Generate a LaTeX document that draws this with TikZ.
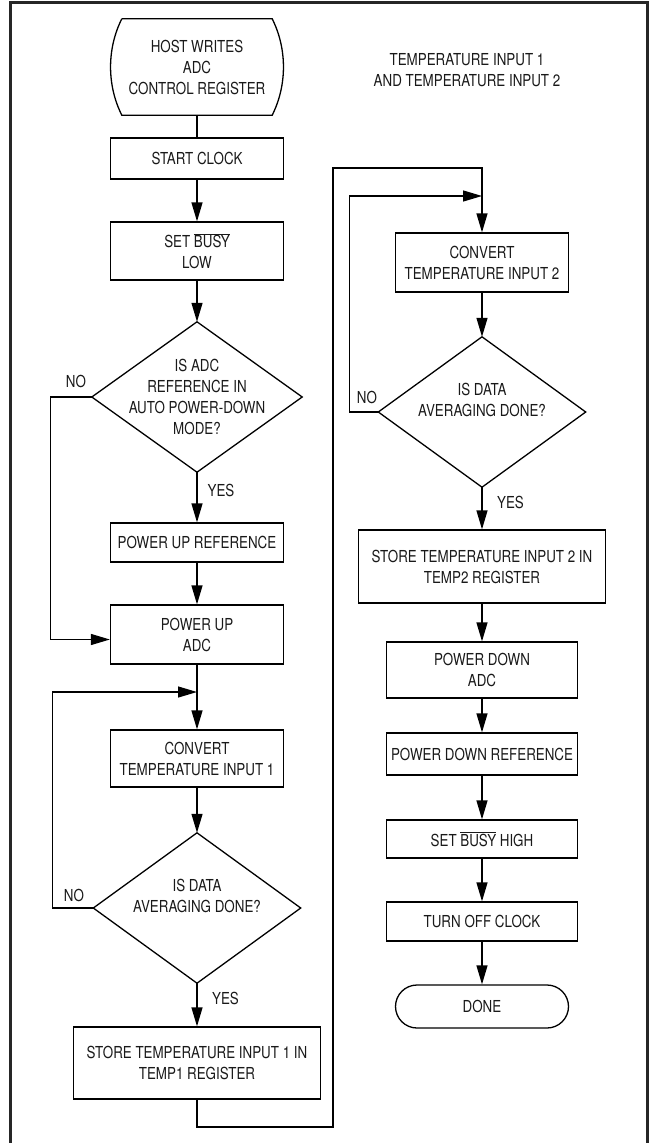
\documentclass[tikz,border=0pt]{standalone}
\usepackage{fontspec}
\setmainfont{TeX Gyre Heros}[FakeStretch=0.81]
\usetikzlibrary{arrows.meta}
\newcommand{\ovl}[1]{$\overline{\mbox{#1}}$}
\begin{document}
\begin{tikzpicture}[x=1pt,y=-1pt,
  every node/.style={font=\fontsize{16.5}{21}\selectfont, inner sep=0pt, align=center, text=black!90},
  box/.style={draw, line width=1.3pt, minimum width=173pt},
  ghost/.style={minimum width=#1},
  conn/.style={line width=1.3pt},
  flow/.style={line width=1.3pt, -{Triangle[length=19pt,width=11pt]}},
  lbl/.style={}]
\useasboundingbox (0,0) rectangle (650,1143);
\draw[line width=3pt, black!85] (10,1143) -- (10,2) -- (647,2) -- (647,1143);

% title
\node (title) at (467,70) {TEMPERATURE INPUT 1\\AND TEMPERATURE INPUT 2};

% left column
\node[minimum width=150pt, minimum height=96pt] (start) at (197,67) {HOST WRITES\\ADC\\CONTROL REGISTER};
\draw[conn] (start.north west) -- (start.north east)
  .. controls +(15,30) and +(15,-30) .. (start.south east)
  -- (start.south west)
  .. controls +(-15,-30) and +(-15,30) .. (start.north west);
\node[box, minimum height=41pt] (clock) at (197,158.5) {START CLOCK};
\node[box, minimum height=58pt] (busy) at (197,251) {SET \ovl{BUSY}\\LOW};
\node[minimum width=210pt, minimum height=150pt] (dia1) at (197,397) {IS ADC\\REFERENCE IN\\AUTO POWER-DOWN\\MODE?};
\draw[conn] (dia1.north) -- (dia1.east) -- (dia1.south) -- (dia1.west) -- cycle;
\node[box, minimum height=39pt] (pur) at (197,542.5) {POWER UP REFERENCE};
\node[box, minimum height=59pt] (pua) at (197,634.5) {POWER UP\\ADC};
\coordinate (join1) at (197,692);
\node[box, minimum height=57pt] (conv1) at (197,758.5) {CONVERT\\TEMPERATURE INPUT 1};
\node[minimum width=207pt, minimum height=150pt] (dia2) at (197,908) {IS DATA\\AVERAGING DONE?\\[3pt]};
\draw[conn] (dia2.north) -- (dia2.east) -- (dia2.south) -- (dia2.west) -- cycle;
\node[box, minimum width=247pt, minimum height=72pt] (store1) at (197,1063) {STORE TEMPERATURE INPUT 1 IN\\TEMP1 REGISTER};

\node (no1) at (76,381) {NO};
\node (yes1) at (221,490) {YES};
\node (no2) at (74,895) {NO};
\node (yes2) at (225.5,998) {YES};

% right column
\coordinate (join2) at (482,196);
\node[box, minimum height=59pt] (conv2) at (482,262.5) {CONVERT\\TEMPERATURE INPUT 2};
\node[minimum width=207pt, minimum height=150pt] (dia3) at (482,412) {IS DATA\\AVERAGING DONE?\\[3pt]};
\draw[conn] (dia3.north) -- (dia3.east) -- (dia3.south) -- (dia3.west) -- cycle;
\node[box, minimum width=247pt, minimum height=73pt] (store2) at (482,566.5) {STORE TEMPERATURE INPUT 2 IN\\TEMP2 REGISTER};
\node[box, minimum width=191pt, minimum height=56pt] (pda) at (482,670) {POWER DOWN\\ADC};
\node[box, minimum width=191pt, minimum height=42pt] (pdr) at (482,754) {POWER DOWN REFERENCE};
\node[box, minimum width=191pt, minimum height=38pt] (sbh) at (482,839) {SET \ovl{BUSY} HIGH};
\node[box, minimum width=191pt, minimum height=39pt] (toc) at (482,921.5) {TURN OFF CLOCK};
\node[draw, line width=1.3pt, rounded corners=21.5pt, minimum width=173pt, minimum height=43pt] (done) at (482,1006.5) {DONE};

\node (no3) at (367,397) {NO};
\node (yes3) at (510.5,502) {YES};

% connectors left
\draw[conn] (start) -- (clock);
\draw[flow] (clock) -- (busy);
\draw[flow] (busy) -- (dia1);
\draw[flow] (dia1) -- (pur);
\draw[flow] (pur) -- (pua);
\draw[flow] (dia1.west) -- ++(-41,0) |- ([yshift=-5pt]pua.west);
\draw[flow] (pua) -- (conv1);
\draw[flow] (dia2.west) -- ++(-41,0) |- (join1);
\draw[flow] (conv1) -- (dia2);
\draw[flow] (dia2) -- (store1);

% cross-over
\coordinate (r1) at (333,1127);
\coordinate (r2) at (333,168);
\draw[flow] (store1.south) |- (r1) -- (r2) -| (conv2.north);

% connectors right
\draw[flow] (dia3.west) -- ++(-29,0) |- (join2);
\draw[flow] (conv2) -- (dia3);
\draw[flow] (dia3) -- (store2);
\draw[flow] (store2) -- (pda);
\draw[flow] (pda) -- (pdr);
\draw[flow] (pdr) -- (sbh);
\draw[flow] (sbh) -- (toc);
\draw[flow] (toc) -- (done);
\end{tikzpicture}
\end{document}
